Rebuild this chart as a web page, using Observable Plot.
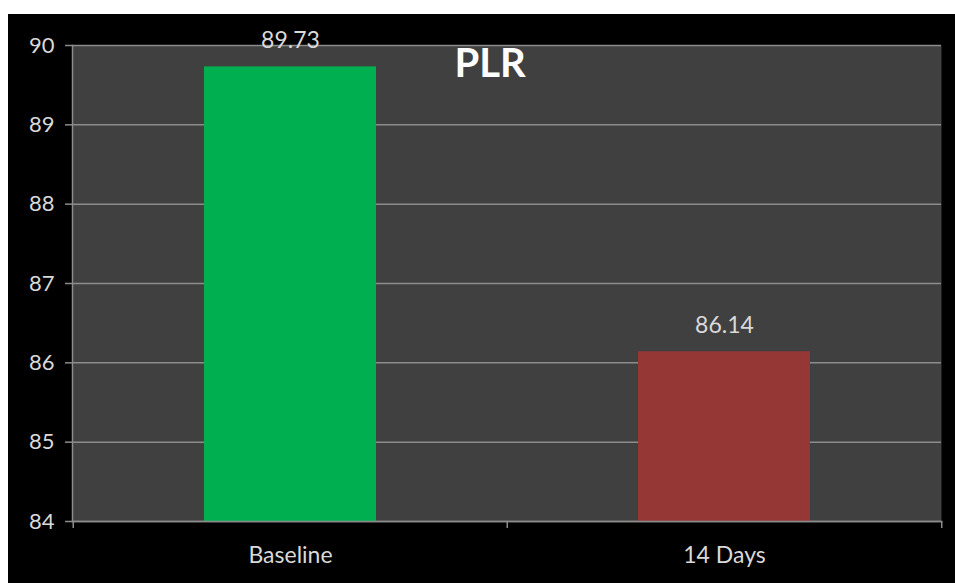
<!DOCTYPE html>
<html>
<head>
<meta charset="utf-8">
<script src="https://cdn.jsdelivr.net/npm/d3@7"></script>
<script src="https://cdn.jsdelivr.net/npm/@observablehq/plot@0.6"></script>
<style>
  html, body { margin: 0; padding: 0; background: #ffffff; }
  #chart { padding-left: 8px; padding-top: 14px; }
  #chart svg { display: block; }
</style>
</head>
<body>
<div id="chart"></div>
<script>
const categories = ["Baseline", "14 Days"];
const values = [89.73, 86.14];
const barColors = ["#00B050", "#953735"];
const yTicks = [84, 85, 86, 87, 88, 89, 90];
const yDomain = [84, 90];
const title = "PLR";

const data = categories.map((c, i) => ({cat: c, value: values[i], color: barColors[i]}));

const W = 947, H = 569;
const mL = 64, mR = 14, mT = 31, mB = 62;
const padIn = 0.604, padOut = 0.302;
const step = (W - mL - mR) / (categories.length - padIn + 2 * padOut);

const axisColor = "#8c8c8c";
const textColor = "#d9d9d9";

const chart = Plot.plot({
  width: W,
  height: H,
  marginLeft: mL,
  marginRight: mR,
  marginTop: mT,
  marginBottom: mB,
  style: {background: "#000000", fontFamily: "Lato, 'Open Sans', sans-serif", color: textColor},
  x: {domain: categories, paddingInner: padIn, paddingOuter: padOut, axis: null, label: null},
  y: {domain: yDomain, axis: null, label: null},
  color: {type: "identity"},
  marks: [
    Plot.frame({fill: "#404040", stroke: null}),
    Plot.gridY(yTicks, {stroke: axisColor, strokeOpacity: 1, strokeWidth: 1.5}),
    Plot.barY(data, {x: "cat", y1: yDomain[0], y2: "value", fill: "color"}),
    Plot.frame({anchor: "left", stroke: axisColor, strokeWidth: 1.5}),
    Plot.frame({anchor: "bottom", stroke: axisColor, strokeWidth: 1.5}),
    Plot.axisY(yTicks, {tickSize: 7, tickPadding: 11, fontSize: 22, fill: textColor, stroke: axisColor, strokeWidth: 1.5, tickFormat: "d", label: null}),
    Plot.axisX(categories, {tickSize: 7, text: null, dx: -step / 2, stroke: axisColor, strokeWidth: 1.5, label: null}),
    Plot.axisX([categories[categories.length - 1]], {tickSize: 7, text: null, dx: step / 2, stroke: axisColor, strokeWidth: 1.5, label: null}),
    Plot.axisX(categories, {tickSize: 0, tickPadding: 25, fontSize: 23, fill: textColor, label: null}),
    Plot.text(data, {x: "cat", y: "value", text: d => d.value.toFixed(2), dy: -26, fontSize: 23, fill: textColor}),
    Plot.text([title], {frameAnchor: "top", lineAnchor: "top", dx: -17, dy: 3, fontSize: 40, fontWeight: "bold", fill: "#ffffff"})
  ]
});

document.getElementById("chart").appendChild(chart);
</script>
</body>
</html>
